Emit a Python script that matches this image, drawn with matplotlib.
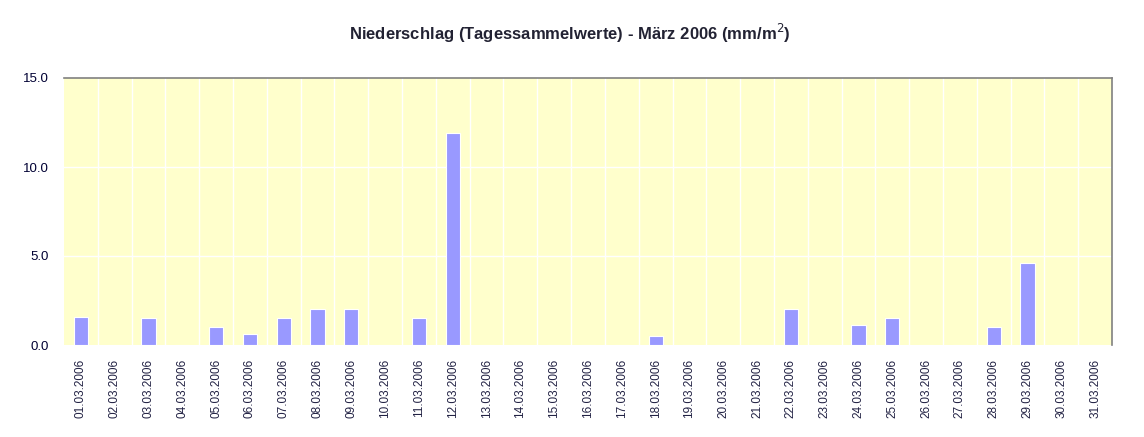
import matplotlib
matplotlib.use("Agg")
import matplotlib.pyplot as plt
import numpy as np

days = [f"{d:02d}.03.2006" for d in range(1, 32)]
values = [1.6, 0, 1.5, 0, 1.0, 0.6, 1.5, 2.0, 2.0, 0, 1.5, 11.9, 0, 0, 0, 0, 0, 0.5,
          0, 0, 0, 2.0, 0, 1.1, 1.5, 0, 0, 1.0, 4.6, 0, 0]
yticks = [0.0, 5.0, 10.0, 15.0]
title = "Niederschlag (Tagessammelwerte) - März 2006 (mm/m$^2$)"

plt.rcParams['font.family'] = ['Liberation Sans', 'DejaVu Sans']
fig = plt.figure(figsize=(11.44, 4.37), dpi=100)
ax = fig.add_axes([64/1144, 1-345/437, (1112-64)/1144, (345-78)/437])
ax.set_facecolor('#FFFFCC')
x = np.arange(len(days))
ax.bar(x, values, width=0.42, color='#9999FF', edgecolor='white', linewidth=0.8, zorder=3)
ax.set_xlim(-0.5, len(days)-0.5)
ax.set_ylim(0, 15)
ax.set_yticks(yticks)
ax.set_yticklabels([f"{v:.1f}" for v in yticks], fontsize=9.5, color='#000033')
ax.set_xticks(x)
ax.set_xticklabels(days, rotation=90, fontsize=8.5, color='#222244')
ax.tick_params(axis='both', length=0)
ax.tick_params(axis='x', pad=10)
ax.tick_params(axis='y', pad=11)
for b in np.arange(0.5, len(days)-0.5, 1):
    ax.axvline(b, color='white', lw=1, zorder=1)
for yv in [5, 10]:
    ax.axhline(yv, color='white', lw=1, zorder=1)
for s in ['left', 'bottom']:
    ax.spines[s].set_visible(False)
for s in ['top', 'right']:
    ax.spines[s].set_color('#808080')
    ax.spines[s].set_linewidth(1.2)
fig.text(570/1144, 1-33/437, title, ha='center', va='center', fontsize=12, fontweight='bold', color='#222233')
fig.savefig('out.png', dpi=100)
